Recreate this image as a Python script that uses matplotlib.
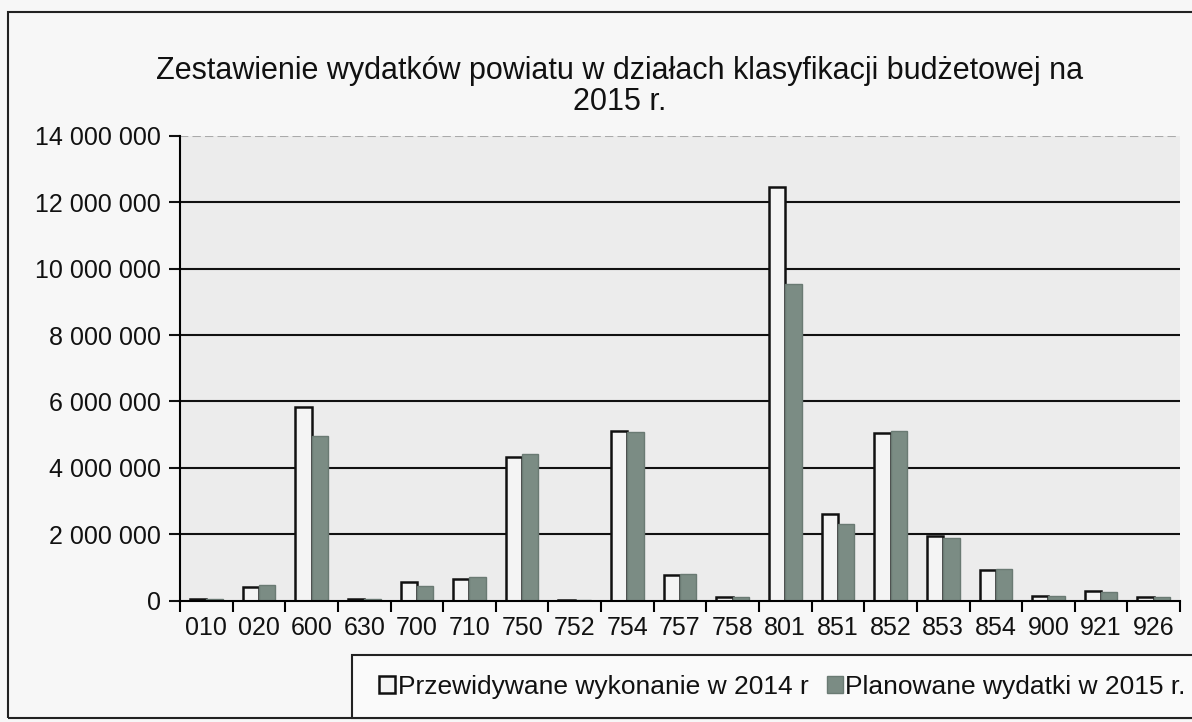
import matplotlib.pyplot as plt
import numpy as np
from matplotlib.ticker import FuncFormatter
from matplotlib.patches import Rectangle

categories = ["010", "020", "600", "630", "700", "710", "750", "752", "754", "757",
              "758", "801", "851", "852", "853", "854", "900", "921", "926"]
wyk_2014 = [40000, 420000, 5820000, 40000, 560000, 650000, 4330000, 30000, 5100000, 770000,
            100000, 12450000, 2600000, 5050000, 1950000, 930000, 150000, 280000, 100000]
plan_2015 = [40000, 470000, 4970000, 40000, 450000, 710000, 4420000, 30000, 5080000, 810000,
             120000, 9550000, 2300000, 5120000, 1900000, 950000, 150000, 250000, 100000]
labels = ["Przewidywane wykonanie w 2014 r", "Planowane wydatki w 2015 r."]
title = "Zestawienie wydatków powiatu w działach klasyfikacji budżetowej na\n2015 r."

plt.rcParams["font.family"] = ["Liberation Sans", "DejaVu Sans"]

fig = plt.figure(figsize=(11.92, 7.22), dpi=100, facecolor="#f7f7f7")
# outer chart frame
fig.patches.append(Rectangle((0.007, 0.005), 1.2, 0.978, transform=fig.transFigure,
                             fill=False, edgecolor="#222222", linewidth=1.5))
# legend box
fig.patches.append(Rectangle((0.2953, 0.0055), 0.72, 0.0873, transform=fig.transFigure,
                             facecolor="#fafafa", edgecolor="#222222", linewidth=1.5))
ax = fig.add_axes([0.151, 0.168, 0.839, 0.644])
ax.set_facecolor("#ececec")

x = np.arange(len(categories))
w = 0.31
ax.bar(x - w / 2, wyk_2014, w, color="#f4f4f4", edgecolor="#111111", linewidth=1.8,
       label=labels[0], zorder=3)
ax.bar(x + w / 2, plan_2015, w, color="#7b8c84", edgecolor="#6a7a73", linewidth=1.0,
       label=labels[1], zorder=3)

ax.set_xlim(-0.5, len(categories) - 0.5)
ax.set_ylim(0, 14000000)
ax.set_yticks(np.arange(0, 14000001, 2000000))
ax.yaxis.set_major_formatter(FuncFormatter(lambda v, p: f"{int(v):,}".replace(",", " ")))
for v in range(2000000, 14000000, 2000000):
    ax.axhline(v, color="#111111", linewidth=1.5, zorder=1)
ax.axhline(14000000, color="#aaaaaa", linewidth=1.5, linestyle=(0, (4, 2)), zorder=1)

ax.set_xticks(x)
ax.set_xticklabels(categories)
ax.set_xticks(np.arange(-0.5, len(categories), 1), minor=True)
ax.tick_params(axis="x", which="major", length=0, labelsize=18, pad=11, colors="#111111")
ax.tick_params(axis="x", which="minor", length=8, width=1.5, direction="out")
ax.tick_params(axis="y", length=8, width=1.5, labelsize=18, pad=6, colors="#111111")

for s in ["top", "right"]:
    ax.spines[s].set_visible(False)
ax.spines["left"].set_linewidth(1.5)
ax.spines["bottom"].set_linewidth(1.5)
ax.spines["bottom"].set_zorder(4)

fig.text(0.52, 0.88, title, ha="center", va="center", fontsize=22, linespacing=1.05,
         color="#111111")

handles, _ = ax.get_legend_handles_labels()
leg = fig.legend(handles, labels, loc="center left", bbox_to_anchor=(0.318, 0.049),
                 ncol=2, fontsize=19, frameon=False, handlelength=0.6,
                 handleheight=0.6, handletextpad=0.1, columnspacing=0.7, borderaxespad=0,
                 borderpad=0)
for t in leg.get_texts():
    t.set_color("#111111")

plt.savefig("out.png", dpi=100, facecolor=fig.get_facecolor())
